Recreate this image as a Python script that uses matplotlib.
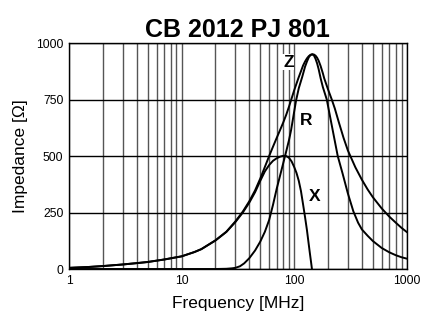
import matplotlib
matplotlib.use("Agg")
import matplotlib.pyplot as plt
from matplotlib.ticker import LogLocator, NullFormatter, FixedLocator

plt.rcParams['font.family'] = ['Liberation Sans', 'DejaVu Sans']

# values (frequency in MHz, impedance in ohm)
z_freq = [1, 1.5, 2, 3, 4, 5, 7, 10, 13, 15, 20, 25, 30, 35, 40, 45, 50, 55,
          60, 65, 70, 75, 80, 85, 90, 95, 100, 109, 115, 120, 125, 130, 135,
          140, 145, 150, 155, 160, 165, 172, 180, 185, 200, 216, 230, 250, 275,
          300, 350, 400, 450, 500, 600, 700, 800, 900, 1000]
z_vals = [5, 9, 13, 20, 26, 31, 42, 56, 75, 88, 127, 165, 210, 254, 300, 348,
          400, 452, 500, 542, 580, 615, 648, 682, 718, 755, 790, 844, 875, 900,
          918, 932, 942, 948, 950, 949, 944, 935, 922, 898, 866, 844, 795, 750,
          710, 648, 580, 525, 450, 395, 352, 318, 268, 232, 205, 182, 164]

r_freq = [1, 10, 20, 25, 28, 30, 33, 36, 40, 45, 50, 55, 60, 65, 70, 75, 80,
          85, 90, 94, 100, 104, 110, 118, 125, 130, 135, 140, 145, 150, 155,
          160, 165, 172, 180, 195, 210, 225, 244, 270, 300, 336, 370, 400, 450,
          500, 600, 700, 800, 900, 1000]
r_vals = [0, 0, 0, 1, 3, 5, 12, 25, 48, 82, 121, 165, 217, 285, 355, 413, 468,
          520, 570, 615, 695, 745, 800, 850, 895, 918, 937, 947, 950, 945, 930,
          910, 885, 844, 805, 750, 667, 590, 500, 421, 335, 255, 205, 175, 147,
          124, 93, 74, 61, 52, 46]

x_freq = [1, 1.5, 2, 3, 4, 5, 7, 10, 13, 15, 20, 25, 30, 35, 40, 45, 50, 55,
          60, 65, 70, 75, 80, 85, 90, 95, 100, 105, 110, 115, 120, 125, 130,
          134, 138, 141, 144]
x_vals = [5, 9, 13, 20, 26, 31, 42, 56, 75, 88, 126, 164, 207, 250, 294, 340,
          390, 432, 460, 479, 490, 497, 501, 500, 492, 476, 452, 425, 390, 345,
          287, 230, 172, 120, 70, 35, 0]

y_ticks = [0, 250, 500, 750, 1000]
x_ticks = [1, 10, 100, 1000]
x_tick_labels = ['1', '10', '100', '1000']

fig = plt.figure(figsize=(4.21, 3.14), dpi=100)
ax = fig.add_axes([0.1639, 0.1433, 0.8021, 0.7197])

ax.plot(z_freq, z_vals, color='black', lw=1.4)
ax.plot(r_freq, r_vals, color='black', lw=1.4)
ax.plot(x_freq, x_vals, color='black', lw=1.4)

ax.set_xscale('log')
ax.set_xlim(1, 1000)
ax.set_ylim(0, 1000)
ax.xaxis.set_major_locator(FixedLocator(x_ticks))
ax.set_xticklabels(x_tick_labels)
ax.xaxis.set_minor_locator(LogLocator(base=10, subs=range(2, 10)))
ax.xaxis.set_minor_formatter(NullFormatter())
ax.set_yticks(y_ticks)
ax.tick_params(which='both', length=0, labelsize=8.7, pad=4)

ax.grid(True, axis='x', which='both', color='#555555', lw=1.0)
ax.grid(True, axis='y', which='major', color='black', lw=1.0)
for s in ax.spines.values():
    s.set_color('black')
    s.set_linewidth(1.0)

ax.text(89, 915, 'Z', fontsize=12.5, fontweight='bold', ha='center', va='center',
        bbox=dict(facecolor='white', edgecolor='none', pad=0.5))
ax.text(128, 656, 'R', fontsize=12.5, fontweight='bold', ha='center', va='center')
ax.text(151, 320, 'X', fontsize=12.5, fontweight='bold', ha='center', va='center')

ax.set_title('CB 2012 PJ 801', fontsize=18, fontweight='bold', pad=4)
ax.set_xlabel('Frequency [MHz]', fontsize=12.5, labelpad=7)
ax.set_ylabel('Impedance [\u03a9]', fontsize=12.5, labelpad=6)

fig.savefig('out.png', dpi=100)
